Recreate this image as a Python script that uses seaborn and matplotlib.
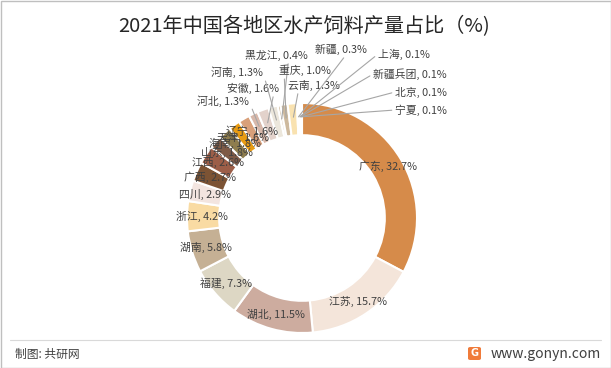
import numpy as np
import matplotlib
matplotlib.use("Agg")
import matplotlib.pyplot as plt
import seaborn as sns
from matplotlib.patches import Rectangle, FancyBboxPatch

# 数据：2021年各地区水产饲料产量占比（%），顺时针从12点开始
regions = ["广东", "江苏", "湖北", "福建", "湖南", "浙江", "四川", "广西", "江西",
           "山东", "海南", "天津", "辽宁", "河北", "安徽", "河南", "黑龙江", "重庆",
           "云南", "新疆", "上海", "新疆兵团", "北京", "宁夏"]
shares = [32.7, 15.7, 11.5, 7.3, 5.8, 4.2, 2.9, 2.7, 2.6,
          1.8, 1.8, 1.6, 1.6, 1.3, 1.6, 1.3, 0.4, 1.0,
          1.3, 0.3, 0.1, 0.1, 0.1, 0.1]
colors = ["#D68B4A", "#F4E5DA", "#CDAC9F", "#DDD7C4", "#C5B094", "#F9DBA3",
          "#F3E5E0", "#7C5334", "#9C5E48", "#7E5A46", "#8E7D4E", "#E89B12",
          "#D9A07A", "#D8B8AA", "#E3D2CB", "#ECE7DC", "#CDB99D", "#CDB99D",
          "#F9E2B0", "#F3E5E0", "#D68B4A", "#F4E5DA", "#CDAC9F", "#DDD7C4"]

# 前13个扇区标签放在环上，其余用引线标注（像素坐标：中心x, y）
n_inner = 13
outer_label_px = [(223, 101), (253, 88), (237, 72), (276, 55), (305, 70),
                  (314, 85), (341, 49), (404, 54), (410, 74), (421, 92), (421, 110)]
outer_relpos = [(1, 0.5), (0.9, 0), (1, 0.5), (0.7, 0), (0.1, 0),
                (0.2, 0), (0.6, 0), (0, 0.5), (0, 0.5), (0, 0.5), (0, 0.5)]

W, H = 611, 368
CX, CY, R = 302, 218, 115


def px2data(px, py):
    return (px - CX) / R, (CY - py) / R


sns.set_theme(style="white")
plt.rcParams["font.family"] = ["Noto Sans CJK SC", "DejaVu Sans"]

fig = plt.figure(figsize=(W / 100, H / 100), dpi=100)
fig.patch.set_facecolor("white")
ax = fig.add_axes([0, 0, 1, 1])

wedges, _ = ax.pie(shares, colors=colors, startangle=90, counterclock=False,
                   radius=1.0, wedgeprops=dict(width=0.28, edgecolor="white", linewidth=1.5))
# pie会重设坐标范围，这里按像素重新设定
ax.set_xlim(-CX / R, (W - CX) / R)
ax.set_ylim(-(H - CY) / R, CY / R)
ax.axis("off")

txt_color = "#404040"
line_color = "#A6A6A6"
for i, (w, name, val) in enumerate(zip(wedges, regions, shares)):
    ang = np.deg2rad((w.theta1 + w.theta2) / 2)
    label = f"{name}, {val}%"
    if i < n_inner:
        r = 0.87
        ax.text(r * np.cos(ang), r * np.sin(ang), label, ha="center", va="center",
                fontsize=7.8, color=txt_color)
    else:
        k = i - n_inner
        tx, ty = px2data(*outer_label_px[k])
        r = 0.88
        ax.annotate(label, xy=(r * np.cos(ang), r * np.sin(ang)), xytext=(tx, ty),
                    ha="center", va="center", fontsize=7.8, color=txt_color,
                    arrowprops=dict(arrowstyle="-", color=line_color, lw=0.8,
                                    shrinkA=0, shrinkB=0, relpos=outer_relpos[k]))

# 标题
fig.text(304 / W, 1 - 27 / H, "2021年中国各地区水产饲料产量占比（%)", ha="center", va="center",
         fontsize=14.5, color="#262626")

# 底部信息栏
fig.add_artist(plt.Line2D([10 / W, 601 / W], [1 - 340 / H, 1 - 340 / H],
                          color="#D9D9D9", lw=0.8, transform=fig.transFigure))
fig.text(15 / W, 1 - 354 / H, "制图: 共研网", ha="left", va="center", fontsize=8.5, color=txt_color)
fig.text(601 / W, 1 - 354 / H, "www.gonyn.com", ha="right", va="center", fontsize=10, color=txt_color)
fig.add_artist(FancyBboxPatch((468 / W, 1 - 360 / H), 13 / W, 13 / H,
                              boxstyle="round,pad=0.0,rounding_size=0.004",
                              facecolor="#F07B3A", edgecolor="none", transform=fig.transFigure))
fig.text(474.5 / W, 1 - 353.5 / H, "G", ha="center", va="center", fontsize=7,
         color="white", fontweight="bold", family="DejaVu Sans")

# 外框
fig.add_artist(Rectangle((0.5 / W, 0.5 / H), 1 - 1 / W, 1 - 1 / H, fill=False,
                         edgecolor="#BFBFBF", lw=1, transform=fig.transFigure))

fig.savefig("out.png", dpi=100, facecolor="white")
